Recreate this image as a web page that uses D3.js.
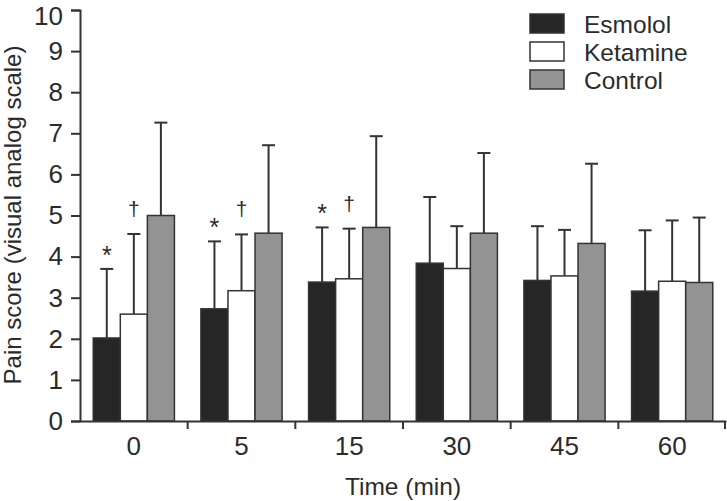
<!DOCTYPE html>
<html>
<head>
<meta charset="utf-8">
<script src="https://cdn.jsdelivr.net/npm/d3@7"></script>
<style>
body { margin: 0; background: #fff; }
text { font-family: "Liberation Sans", Arial, sans-serif; fill: #2b2b2b; }
</style>
</head>
<body>
<script>
// pain score data
const times = ["0", "5", "15", "30", "45", "60"];
const groups = ["Esmolol", "Ketamine", "Control"];
const colors = ["#262626", "#ffffff", "#939393"];
const esmolol = [2.02, 2.73, 3.38, 3.84, 3.42, 3.16];
const esmololSD = [1.68, 1.64, 1.33, 1.61, 1.32, 1.48];
const ketamine = [2.60, 3.17, 3.46, 3.71, 3.53, 3.40];
const ketamineSD = [1.95, 1.37, 1.22, 1.03, 1.12, 1.48];
const control = [5.00, 4.57, 4.71, 4.57, 4.32, 3.37];
const controlSD = [2.26, 2.14, 2.22, 1.95, 1.94, 1.58];
const yTicks = [0, 1, 2, 3, 4, 5, 6, 7, 8, 9, 10];
// significance marks: [time index, group index, symbol]
const marks = [[0, 0, "*"], [0, 1, "\u2020"], [1, 0, "*"], [1, 1, "\u2020"], [2, 0, "*"], [2, 1, "\u2020"]];

const means = [esmolol, ketamine, control];
const sds = [esmololSD, ketamineSD, controlSD];

const width = 727, height = 501;
const mLeft = 80, mRight = 726, mTop = 10, mBottom = 421;

const svg = d3.select("body").append("svg")
    .attr("width", width).attr("height", height);

const x0 = d3.scaleBand().domain(times).range([mLeft, mRight]).padding(0);
const x1 = d3.scaleBand().domain(groups)
    .range([x0.bandwidth() * 0.123, x0.bandwidth() * 0.877]);
const y = d3.scaleLinear().domain([0, 10]).range([mBottom, mTop]);

// bars
times.forEach((t, i) => {
    const g = svg.append("g").attr("transform", "translate(" + x0(t) + ",0)");
    groups.forEach((name, j) => {
        const cx = x1(name) + x1.bandwidth() / 2;
        const m = means[j][i], hi = m + sds[j][i];
        // error bar
        g.append("line")
            .attr("x1", cx).attr("x2", cx)
            .attr("y1", y(m)).attr("y2", y(hi))
            .attr("stroke", "#333").attr("stroke-width", 2);
        g.append("line")
            .attr("x1", cx - 6.5).attr("x2", cx + 6.5)
            .attr("y1", y(hi)).attr("y2", y(hi))
            .attr("stroke", "#333").attr("stroke-width", 2);
        g.append("rect")
            .attr("x", x1(name)).attr("y", y(m))
            .attr("width", x1.bandwidth()).attr("height", y(0) - y(m))
            .attr("fill", colors[j]).attr("stroke", "#333").attr("stroke-width", 1.5);
    });
});

// * and dagger marks
marks.forEach(d => {
    const t = times[d[0]], name = groups[d[1]];
    const cx = x0(t) + x1(name) + x1.bandwidth() / 2;
    const hi = means[d[1]][d[0]] + sds[d[1]][d[0]];
    svg.append("text")
        .attr("x", cx)
        .attr("y", d[2] == "*" ? y(hi) - 5 : y(hi) - 18)
        .attr("text-anchor", "middle")
        .style("font-size", d[2] == "*" ? "25px" : "21px")
        .text(d[2]);
});

// y axis
const yAxis = svg.append("g")
    .attr("transform", "translate(" + mLeft + ",0)")
    .call(d3.axisLeft(y).tickValues(yTicks).tickSize(9).tickPadding(8));
yAxis.select(".domain").attr("stroke", "#333").attr("stroke-width", 2);
yAxis.selectAll(".tick line").attr("stroke", "#333").attr("stroke-width", 2);
yAxis.selectAll(".tick text").style("font-size", "26px").attr("fill", "#2b2b2b");
// top label sits against the edge, nudge it down a little
yAxis.selectAll(".tick text").filter(d => d === 10).attr("dy", "0.55em");

// x axis: line, boundary ticks, centred labels
const xAxis = svg.append("g")
    .attr("transform", "translate(0," + mBottom + ")")
    .call(d3.axisBottom(x0).tickSize(0).tickPadding(16));
xAxis.select(".domain").attr("stroke", "#333").attr("stroke-width", 2);
xAxis.selectAll(".tick text").style("font-size", "26px").attr("fill", "#2b2b2b");
const bounds = times.map(t => x0(t) + x0.bandwidth()).slice(0, -1).concat([mRight - 1]);
xAxis.selectAll(".bound").data(bounds).enter().append("line")
    .attr("x1", d => d).attr("x2", d => d)
    .attr("y1", 0).attr("y2", 8)
    .attr("stroke", "#333").attr("stroke-width", 2);

// axis titles
svg.append("text")
    .attr("x", (mLeft + mRight) / 2).attr("y", 495)
    .attr("text-anchor", "middle")
    .style("font-size", "24.5px")
    .text("Time (min)");
svg.append("text")
    .attr("transform", "translate(21," + 215 + ") rotate(-90)")
    .attr("text-anchor", "middle")
    .style("font-size", "24px")
    .text("Pain score (visual analog scale)");

// legend
const legend = svg.append("g").attr("transform", "translate(530,14)");
groups.forEach((name, j) => {
    legend.append("rect")
        .attr("x", 0).attr("y", j * 28)
        .attr("width", 34).attr("height", 19)
        .attr("fill", colors[j]).attr("stroke", "#333").attr("stroke-width", 1.5);
    legend.append("text")
        .attr("x", 54).attr("y", j * 28 + 19)
        .style("font-size", "24.5px")
        .text(name);
});
</script>
</body>
</html>
